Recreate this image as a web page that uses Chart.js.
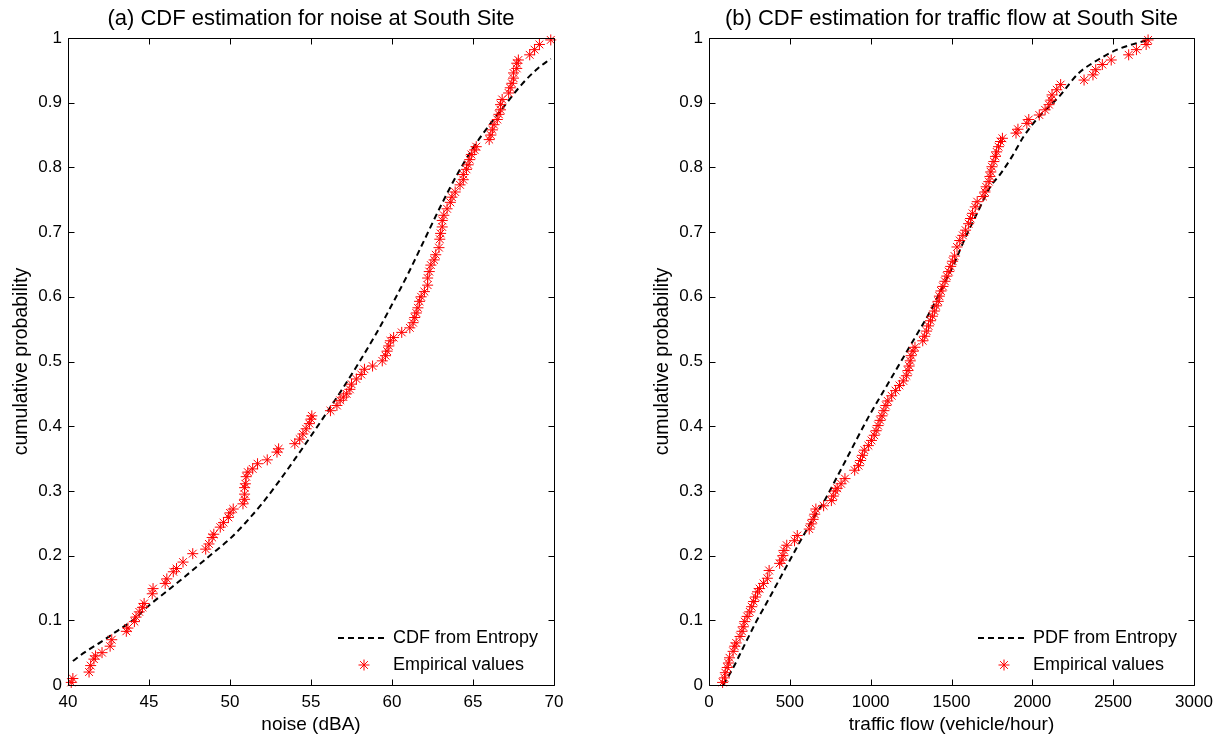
<!DOCTYPE html>
<html>
<head>
<meta charset="utf-8">
<title>CDF estimation at South Site</title>
<script src="https://cdn.jsdelivr.net/npm/chart.js@4.4.1/dist/chart.umd.min.js"></script>
<style>
  html, body { margin: 0; padding: 0; background: #fff; }
  #wrap { position: relative; width: 1220px; height: 738px; }
  canvas { position: absolute; top: 0; }
  #noiseChart { left: 0; }
  #flowChart { left: 610px; }
</style>
</head>
<body>
<div id="wrap">
  <canvas id="noiseChart" width="610" height="738"></canvas>
  <canvas id="flowChart" width="610" height="738"></canvas>
</div>
<script>
Chart.defaults.font.family = '"Liberation Sans", Arial, sans-serif';
Chart.defaults.font.size = 17;
Chart.defaults.color = '#000';

const noiseTicks = [40, 45, 50, 55, 60, 65, 70];
const flowTicks = [0, 500, 1000, 1500, 2000, 2500, 3000];
const probTicks = [0, 0.1, 0.2, 0.3, 0.4, 0.5, 0.6, 0.7, 0.8, 0.9, 1];

const noiseLegend = ['CDF from Entropy', 'Empirical values'];
const flowLegend = ['PDF from Entropy', 'Empirical values'];

// smooth maximum-entropy CDF, noise (dBA)
const noiseCdf = [
  [40.3, 0.037], [41, 0.05], [42, 0.066], [43, 0.083], [44, 0.1], [45, 0.123],
  [46, 0.143], [47, 0.163], [48, 0.184], [49, 0.205], [50, 0.226], [51, 0.252],
  [52, 0.281], [53, 0.314], [54, 0.349], [55, 0.385], [56, 0.422], [57, 0.46],
  [58, 0.5], [59, 0.542], [60, 0.588], [61, 0.636], [62, 0.688], [63, 0.74],
  [64, 0.788], [65, 0.83], [66, 0.865], [67, 0.897], [68, 0.928], [69, 0.953], [69.8, 0.968]
];

// empirical CDF, noise (dBA)
const noiseEmpirical = [
  [40.2, 0.004], [40.3, 0.01], [41.3, 0.02], [41.4, 0.03], [41.6, 0.04], [41.7, 0.045],
  [42.1, 0.05], [42.6, 0.06], [42.7, 0.07], [43.6, 0.083], [43.7, 0.088], [44.1, 0.098],
  [44.2, 0.105], [44.4, 0.113], [44.6, 0.12], [44.7, 0.126], [45.2, 0.141], [45.25, 0.149],
  [46.0, 0.157], [46.1, 0.164], [46.5, 0.175], [46.7, 0.18], [47.1, 0.19], [47.7, 0.203],
  [48.5, 0.21], [48.7, 0.218], [48.9, 0.228], [49.0, 0.233], [49.4, 0.244], [49.6, 0.251],
  [49.9, 0.259], [50.0, 0.266], [50.2, 0.272], [50.8, 0.28], [50.9, 0.287], [50.9, 0.295],
  [50.9, 0.305], [50.95, 0.311], [51.0, 0.322], [51.1, 0.329], [51.4, 0.334], [51.7, 0.342],
  [52.3, 0.348], [52.9, 0.36], [53.0, 0.365], [54.0, 0.373], [54.3, 0.38], [54.5, 0.388],
  [54.7, 0.396], [54.9, 0.404], [55.0, 0.411], [55.05, 0.416], [56.2, 0.424], [56.6, 0.432],
  [56.8, 0.44], [57.0, 0.445], [57.2, 0.45], [57.4, 0.457], [57.5, 0.465], [57.8, 0.473],
  [58.1, 0.48], [58.3, 0.488], [58.8, 0.493], [59.4, 0.501], [59.6, 0.509], [59.7, 0.516],
  [59.8, 0.524], [59.9, 0.532], [60.1, 0.537], [60.6, 0.545], [61.1, 0.552], [61.3, 0.56],
  [61.4, 0.568], [61.5, 0.575], [61.6, 0.583], [61.7, 0.593], [61.8, 0.6], [62.0, 0.608],
  [62.2, 0.618], [62.2, 0.629], [62.3, 0.639], [62.4, 0.649], [62.6, 0.657], [62.7, 0.665],
  [62.9, 0.676], [62.95, 0.689], [63.0, 0.698], [63.1, 0.708], [63.1, 0.718], [63.2, 0.726],
  [63.4, 0.736], [63.6, 0.746], [63.7, 0.754], [63.9, 0.762], [64.2, 0.773], [64.4, 0.781],
  [64.4, 0.789], [64.6, 0.797], [64.7, 0.804], [64.8, 0.812], [64.9, 0.82], [65.1, 0.827],
  [65.2, 0.832], [66.0, 0.843], [66.1, 0.85], [66.2, 0.858], [66.3, 0.866], [66.5, 0.874],
  [66.6, 0.882], [66.7, 0.889], [66.7, 0.897], [66.8, 0.905], [67.2, 0.915], [67.3, 0.923],
  [67.4, 0.93], [67.5, 0.938], [67.5, 0.946], [67.7, 0.953], [67.7, 0.961], [67.8, 0.966],
  [68.5, 0.974], [68.8, 0.982], [69.1, 0.99], [69.8, 0.997]
];

// smooth maximum-entropy curve, traffic flow (vehicle/hour)
const flowCdf = [
  [88, 0], [144, 0.024], [216, 0.06], [288, 0.096], [361, 0.129], [433, 0.162],
  [505, 0.195], [577, 0.228], [649, 0.259], [721, 0.288], [793, 0.322], [889, 0.368],
  [986, 0.414], [1082, 0.455], [1178, 0.496], [1274, 0.537], [1370, 0.578], [1442, 0.614],
  [1514, 0.65], [1574, 0.685], [1658, 0.729], [1740, 0.77], [1803, 0.79], [1875, 0.817],
  [1947, 0.848], [2043, 0.879], [2164, 0.909], [2284, 0.945], [2404, 0.966], [2524, 0.982],
  [2644, 0.992], [2716, 0.997]
];

// empirical CDF, traffic flow (vehicle/hour)
const flowEmpirical = [
  [84, 0.004], [96, 0.011], [101, 0.019], [113, 0.027], [120, 0.034], [127, 0.042],
  [149, 0.052], [159, 0.06], [168, 0.065], [192, 0.075], [204, 0.083], [212, 0.09],
  [221, 0.098], [236, 0.106], [252, 0.113], [264, 0.121], [276, 0.129], [288, 0.136],
  [300, 0.144], [313, 0.149], [337, 0.157], [361, 0.165], [372, 0.177], [437, 0.188],
  [450, 0.193], [457, 0.2], [464, 0.208], [481, 0.216], [529, 0.223], [546, 0.231],
  [620, 0.241], [632, 0.249], [644, 0.256], [654, 0.264], [661, 0.272], [709, 0.277],
  [757, 0.285], [769, 0.292], [781, 0.3], [793, 0.304], [817, 0.311], [841, 0.319],
  [901, 0.332], [925, 0.339], [937, 0.347], [949, 0.355], [961, 0.363], [986, 0.37],
  [1005, 0.378], [1022, 0.386], [1034, 0.393], [1046, 0.401], [1058, 0.409], [1070, 0.416],
  [1082, 0.424], [1094, 0.432], [1106, 0.439], [1130, 0.447], [1154, 0.455], [1178, 0.463],
  [1202, 0.47], [1221, 0.478], [1231, 0.486], [1238, 0.493], [1245, 0.501], [1250, 0.509],
  [1262, 0.516], [1274, 0.522], [1322, 0.532], [1334, 0.539], [1346, 0.547], [1358, 0.555],
  [1370, 0.563], [1382, 0.57], [1394, 0.578], [1406, 0.586], [1418, 0.593], [1425, 0.601],
  [1435, 0.609], [1447, 0.616], [1459, 0.624], [1471, 0.632], [1483, 0.639], [1495, 0.647],
  [1507, 0.655], [1519, 0.663], [1534, 0.677], [1551, 0.687], [1570, 0.695], [1587, 0.703],
  [1606, 0.713], [1618, 0.721], [1630, 0.729], [1647, 0.739], [1659, 0.747], [1695, 0.755],
  [1707, 0.762], [1714, 0.77], [1731, 0.778], [1738, 0.786], [1743, 0.793], [1750, 0.801],
  [1762, 0.809], [1772, 0.817], [1779, 0.824], [1791, 0.832], [1803, 0.84], [1815, 0.845],
  [1899, 0.853], [1911, 0.859], [1966, 0.868], [1978, 0.874], [2043, 0.881], [2079, 0.889],
  [2103, 0.897], [2115, 0.904], [2122, 0.912], [2151, 0.92], [2175, 0.928], [2320, 0.935],
  [2375, 0.943], [2392, 0.951], [2433, 0.959], [2488, 0.966], [2596, 0.974], [2644, 0.982],
  [2704, 0.99], [2716, 0.997]
];

// axes box with inward ticks on all four sides (matlab look)
const boxTicks = {
  id: 'boxTicks',
  afterDraw(chart) {
    const {ctx, chartArea: a, scales: {x, y}} = chart;
    const len = 6;
    const L = Math.round(a.left) + 0.5, R = Math.round(a.right) + 0.5;
    const T = Math.round(a.top) + 0.5, B = Math.round(a.bottom) + 0.5;
    ctx.save();
    ctx.strokeStyle = '#000';
    ctx.lineWidth = 1;
    ctx.beginPath();
    x.ticks.forEach(t => {
      const px = Math.round(x.getPixelForValue(t.value)) + 0.5;
      ctx.moveTo(px, B); ctx.lineTo(px, B - len);
      ctx.moveTo(px, T); ctx.lineTo(px, T + len);
    });
    y.ticks.forEach(t => {
      const py = Math.round(y.getPixelForValue(t.value)) + 0.5;
      ctx.moveTo(L, py); ctx.lineTo(L + len, py);
      ctx.moveTo(R, py); ctx.lineTo(R - len, py);
    });
    ctx.rect(L, T, R - L, B - T);
    ctx.stroke();
    ctx.restore();
  }
};

// legend in the lower right corner of the plot, no frame
const cornerLegend = {
  id: 'cornerLegend',
  afterDraw(chart) {
    const {ctx, chartArea: a} = chart;
    const [fit, emp] = chart.data.datasets;
    const rows = [a.bottom - 47, a.bottom - 20];
    ctx.save();
    ctx.strokeStyle = fit.borderColor;
    ctx.lineWidth = fit.borderWidth;
    ctx.setLineDash(fit.borderDash);
    ctx.beginPath();
    ctx.moveTo(a.right - 216, rows[0]);
    ctx.lineTo(a.right - 169, rows[0]);
    ctx.stroke();
    ctx.setLineDash([]);
    ctx.strokeStyle = emp.borderColor;
    ctx.lineWidth = emp.borderWidth;
    Chart.helpers.drawPoint(ctx, {
      pointStyle: 'star', radius: emp.pointRadius, rotation: 0, borderWidth: emp.borderWidth
    }, a.right - 190, rows[1]);
    ctx.fillStyle = '#000';
    ctx.font = '18px "Liberation Sans", Arial, sans-serif';
    ctx.textAlign = 'left';
    ctx.textBaseline = 'middle';
    ctx.fillText(fit.label, a.right - 161, rows[0]);
    ctx.fillText(emp.label, a.right - 161, rows[1]);
    ctx.restore();
  }
};

function makeChart(el, cfg) {
  return new Chart(el, {
    type: 'scatter',
    data: {
      datasets: [{
        label: cfg.legend[0],
        data: cfg.fit.map(([x, y]) => ({x, y})),
        showLine: true,
        borderColor: '#000',
        borderWidth: 2,
        borderDash: [6, 4],
        pointRadius: 0,
        cubicInterpolationMode: 'monotone',
        order: 1
      }, {
        label: cfg.legend[1],
        data: cfg.emp.map(([x, y]) => ({x, y})),
        showLine: false,
        pointStyle: 'star',
        pointRadius: 5.5,
        borderColor: '#ff0000',
        backgroundColor: '#ff0000',
        borderWidth: 1,
        clip: false,
        order: 0
      }]
    },
    options: {
      responsive: false,
      animation: false,
      devicePixelRatio: 1,
      events: [],
      layout: { padding: cfg.padding },
      plugins: {
        legend: { display: false },
        tooltip: { enabled: false },
        title: {
          display: true,
          text: cfg.title,
          fullSize: false,
          color: '#000',
          font: { size: 22, weight: 'normal' },
          padding: { top: 6, bottom: 5.6 }
        }
      },
      scales: {
        x: {
          type: 'linear',
          min: cfg.xTicks[0],
          max: cfg.xTicks[cfg.xTicks.length - 1],
          afterBuildTicks: s => { s.ticks = cfg.xTicks.map(v => ({value: v})); },
          afterFit: s => { s.height = 53; },
          grid: { display: false, drawTicks: false },
          border: { display: false },
          ticks: { padding: 7, maxRotation: 0, autoSkip: false, color: '#000', callback: v => String(v) },
          title: { display: true, text: cfg.xTitle, color: '#000', font: { size: 19 }, padding: { top: 0, bottom: 1.6 } }
        },
        y: {
          type: 'linear',
          min: 0,
          max: 1,
          afterBuildTicks: s => { s.ticks = probTicks.map(v => ({value: v})); },
          afterFit: s => { s.width = 68; },
          grid: { display: false, drawTicks: false },
          border: { display: false },
          ticks: { padding: 6, autoSkip: false, color: '#000', callback: v => String(v) },
          title: { display: true, text: 'cumulative probability', color: '#000', font: { size: 19.5 }, padding: { top: 9.5, bottom: 0 } }
        }
      }
    },
    plugins: [boxTicks, cornerLegend]
  });
}

makeChart(document.getElementById('noiseChart'), {
  title: '(a) CDF estimation for noise at South Site',
  xTitle: 'noise (dBA)',
  xTicks: noiseTicks,
  legend: noiseLegend,
  fit: noiseCdf,
  emp: noiseEmpirical,
  padding: { left: 0, right: 56, top: 0, bottom: 0 }
});

makeChart(document.getElementById('flowChart'), {
  title: '(b) CDF estimation for traffic flow at South Site',
  xTitle: 'traffic flow (vehicle/hour)',
  xTicks: flowTicks,
  legend: flowLegend,
  fit: flowCdf,
  emp: flowEmpirical,
  padding: { left: 31, right: 26, top: 0, bottom: 0 }
});
</script>
</body>
</html>
